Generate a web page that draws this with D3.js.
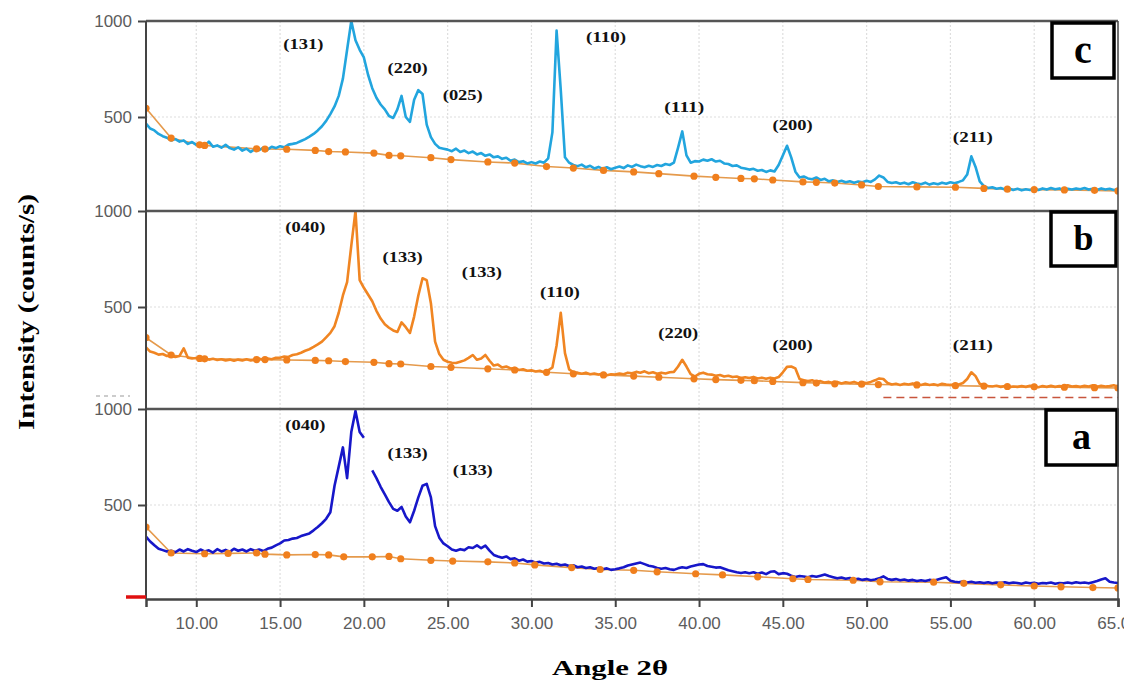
<!DOCTYPE html>
<html>
<head>
<meta charset="utf-8">
<script src="https://cdn.jsdelivr.net/npm/d3@7"></script>
<style>
  body { margin: 0; background: #fff; }
  svg { display: block; }
</style>
</head>
<body>
<svg id="chart"></svg>
<script>
// 2-theta grid shared by the three scans (7.00 .. 65.00, step 0.25)
const angles = d3.range(7, 65.001, 0.25);

// scan c (cyan)
const traceC = [
  465,440,430,412,400,392,378,385,372,378,360,370,
  355,362,350,372,345,352,340,355,338,330,342,325,335,318,332,328,340,330,345,338,
  348,342,356,360,365,375,385,398,412,430,452,480,515,555,610,700,850,1000,900,850,
  810,720,650,600,565,540,505,495,540,610,500,475,590,640,620,460,395,360,340,335,
  330,322,335,318,325,312,320,305,312,298,305,290,295,282,288,272,278,265,270,258,
  265,258,268,262,285,420,950,640,290,262,250,244,252,238,246,232,240,230,238,228,
  236,242,234,248,240,252,244,238,246,240,250,245,255,250,262,340,425,300,262,270,
  268,278,272,280,268,272,258,255,245,248,236,232,226,230,220,224,214,222,216,250,
  300,350,290,215,185,190,180,176,185,172,178,165,170,162,168,160,165,158,164,160,
  168,162,175,195,185,162,156,160,152,158,150,160,154,150,158,148,155,150,158,152,
  160,155,162,170,200,295,240,165,140,130,134,126,130,122,128,120,126,118,124,120,
  126,120,128,122,130,124,128,120,126,122,128,124,130,122,126,120,128,122,126,120,124
];

// scan b (orange)
const traceB = [
  290,268,262,252,255,245,248,240,245,285,236,232,
  234,228,232,226,230,224,228,222,226,220,226,222,228,222,226,230,226,232,228,236,
  236,242,240,250,254,262,272,280,292,305,320,342,365,400,470,560,630,820,1000,640,
  600,565,530,480,440,410,392,378,370,420,395,365,450,560,650,640,520,320,255,225,
  215,210,208,215,222,235,250,225,232,250,220,195,200,185,190,180,182,172,176,168,
  170,164,168,160,170,185,300,470,260,175,160,158,152,158,150,154,148,152,145,150,
  148,154,150,158,155,162,158,165,155,160,152,158,154,160,162,190,225,190,150,138,
  152,158,150,148,142,146,138,142,135,138,130,134,130,136,128,132,126,132,128,135,
  160,188,190,180,125,118,114,118,110,114,106,110,104,110,102,108,104,110,102,106,
  104,110,118,128,125,104,96,100,94,100,96,102,98,94,100,94,98,92,100,96,
  94,98,96,104,125,160,140,100,94,88,86,90,84,88,82,86,84,88,84,90,
  86,82,88,84,90,84,88,86,92,86,88,84,90,86,92,84,90,86,88,92,86
];

// scan a (blue), null = break in the recorded trace
const traceA = [
  335,310,290,272,265,258,262,254,268,258,270,262,
  255,268,258,264,252,270,258,266,256,272,262,268,258,270,262,268,260,272,278,290,
  300,315,318,325,328,338,345,352,368,385,405,428,462,600,700,800,640,880,990,880,
  850,null,680,640,595,555,515,480,470,490,440,410,470,540,600,610,540,390,330,300,
  285,268,262,270,265,280,276,290,275,288,262,240,232,225,232,218,222,210,216,205,
  208,200,204,195,198,190,194,186,190,182,186,176,180,172,176,168,172,165,170,162,
  165,170,176,185,190,195,200,192,184,180,172,168,172,165,162,170,176,172,180,185,
  190,192,182,178,174,176,168,160,155,150,146,150,145,150,142,148,140,152,155,140,
  145,142,132,125,130,128,124,130,126,132,138,130,124,118,122,116,120,112,116,110,
  114,108,112,118,128,115,110,114,108,112,106,110,104,108,104,110,106,112,118,124,
  106,100,98,102,96,100,95,98,94,98,92,96,94,98,92,96,94,90,96,92,
  95,90,94,92,96,90,94,92,96,92,98,94,96,92,98,104,112,118,100,96,94
];

// fitted backgrounds (orange dotted lines)
const baseAngC = [7.0,8.5,10.2,10.5,13.6,14.1,15.4,17.1,17.9,18.9,20.6,21.5,22.2,24.0,25.2,27.4,29.0,30.9,32.5,34.3,
  36.1,37.6,39.7,41.0,42.5,43.3,44.4,46.2,47.0,48.1,49.7,50.7,53.0,55.3,57.0,58.4,60.0,61.8,63.6,65.0];
const baseValC = [545,390,355,352,334,333,332,326,320,318,312,300,298,288,278,266,260,242,234,222,
  214,205,192,186,180,178,172,162,160,156,146,138,136,134,128,124,122,120,118,115];
const baseAngB = baseAngC;
const baseValB = [340,250,232,230,226,226,224,222,220,216,212,205,203,190,186,178,172,160,152,146,
  140,134,126,122,118,116,112,106,104,100,98,96,94,90,88,86,84,82,80,78];
const baseAngA = [7.0,8.5,10.5,11.9,13.6,14.1,15.4,17.1,17.9,18.8,20.5,21.5,22.2,24.0,25.3,27.4,29.0,30.2,
  32.4,34.1,36.1,37.5,39.8,41.4,43.5,45.6,46.5,49.2,50.8,54.0,55.8,58.0,60.0,61.6,63.5,65.0];
const baseValA = [385,250,246,248,250,244,240,242,240,230,230,232,220,212,208,204,198,188,
  174,164,160,152,142,136,126,116,112,108,100,98,92,84,78,74,70,68];

// Miller index annotations
const peakLabelsC = ["(131)","(220)","(025)","(110)","(111)","(200)","(211)"];
const peakAngC = [16.39,22.61,25.9,34.45,39.12,45.58,56.34];
const peakValC = [880,755,615,917,552,458,396];
const peakLabelsB = ["(040)","(133)","(133)","(110)","(220)","(200)","(211)"];
const peakAngB = [16.51,22.31,27.04,31.70,38.76,45.58,56.34];
const peakValB = [917,760,682,578,365,302,302];
const peakLabelsA = ["(040)","(133)","(133)"];
const peakAngA = [16.51,22.61,26.5];
const peakValA = [917,771,682];

const xTicks = [10,15,20,25,30,35,40,45,50,55,60,65];
const yTicks = [500,1000];

const width = 1124, height = 680;
const plotLeft = 146, plotRight = 1118;

const svg = d3.select("#chart").attr("width", width).attr("height", height);

const x = d3.scaleLinear().domain([7, 65]).range([plotLeft, plotRight]);

const panels = [
  { id: "c", top: 21, bottom: 211, trace: traceC, color: "#22a5de",
    bAng: baseAngC, bVal: baseValC, labels: peakLabelsC, lAng: peakAngC, lVal: peakValC,
    box: { x: 1052, y: 23, w: 62, h: 55, fs: 40 } },
  { id: "b", top: 211, bottom: 409, trace: traceB, color: "#f08522",
    bAng: baseAngB, bVal: baseValB, labels: peakLabelsB, lAng: peakAngB, lVal: peakValB,
    box: { x: 1051, y: 212, w: 65, h: 54, fs: 36 } },
  { id: "a", top: 409, bottom: 599, trace: traceA, color: "#1717c9",
    bAng: baseAngA, bVal: baseValA, labels: peakLabelsA, lAng: peakAngA, lVal: peakValA,
    box: { x: 1046, y: 410, w: 71, h: 55, fs: 38 } }
];

const defs = svg.append("defs");

panels.forEach(p => {
  const y = d3.scaleLinear().domain([0, 1000]).range([p.top + 192, p.top]);
  const g = svg.append("g").attr("class", "panel-" + p.id);

  defs.append("clipPath").attr("id", "clip-" + p.id)
    .append("rect")
    .attr("x", plotLeft).attr("y", p.top)
    .attr("width", plotRight - plotLeft).attr("height", p.bottom - p.top);

  // dotted grid
  g.append("g").selectAll("line")
    .data(xTicks.filter(d => d < 65))
    .join("line")
      .attr("x1", d => x(d)).attr("x2", d => x(d))
      .attr("y1", p.top).attr("y2", p.bottom)
      .attr("stroke", "#dedede").attr("stroke-width", 1.2)
      .attr("stroke-dasharray", "2,2");
  g.append("line")
    .attr("x1", plotLeft).attr("x2", plotRight)
    .attr("y1", y(500)).attr("y2", y(500))
    .attr("stroke", "#dedede").attr("stroke-width", 1.2)
    .attr("stroke-dasharray", "2,2");

  const inner = g.append("g").attr("clip-path", `url(#clip-${p.id})`);

  const bgPts = p.bAng.map((a, i) => [a, p.bVal[i]]);
  inner.append("path")
    .datum(bgPts)
    .attr("fill", "none")
    .attr("stroke", "#e59a4c")
    .attr("stroke-width", 1.6)
    .attr("d", d3.line().x(d => x(d[0])).y(d => y(d[1])));

  const pts = angles.map((a, i) => [a, p.trace[i]]).filter(d => d[1] !== undefined);
  inner.append("path")
    .datum(pts)
    .attr("fill", "none")
    .attr("stroke", p.color)
    .attr("stroke-width", 2.6)
    .attr("stroke-linejoin", "round")
    .attr("d", d3.line().defined(d => d[1] !== null).x(d => x(d[0])).y(d => y(d[1])));

  inner.append("g").selectAll("circle")
    .data(bgPts)
    .join("circle")
      .attr("cx", d => x(d[0]))
      .attr("cy", d => y(d[1]))
      .attr("r", 3.6)
      .attr("fill", "#f07f1d");

  // peak labels
  g.append("g").selectAll("text")
    .data(p.labels)
    .join("text")
      .attr("x", (d, i) => x(p.lAng[i]) - 20)
      .attr("y", (d, i) => y(p.lVal[i]))
      .attr("dy", "0.35em")
      .attr("textLength", 40)
      .attr("lengthAdjust", "spacingAndGlyphs")
      .style("font-family", "'Liberation Serif', 'Times New Roman', serif")
      .style("font-weight", "bold")
      .style("font-size", "14px")
      .attr("fill", "#111")
      .text(d => d);

  // y axis of this panel
  const yAxis = d3.axisLeft(y).tickValues(yTicks).tickFormat(d3.format("d"))
    .tickSize(8).tickPadding(6);
  const ya = g.append("g").attr("transform", `translate(${plotLeft},0)`).call(yAxis);
  ya.select(".domain").remove();
  ya.selectAll(".tick line").attr("stroke", "#444").attr("stroke-width", 2);
  ya.selectAll(".tick text")
    .style("font-family", "'Liberation Sans', Arial, sans-serif")
    .style("font-size", "17px")
    .attr("fill", "#5c5c5c");

  // panel top rule
  g.append("line")
    .attr("x1", plotLeft).attr("x2", plotRight)
    .attr("y1", p.top).attr("y2", p.top)
    .attr("stroke", "#555").attr("stroke-width", 2.5);

  // letter box
  g.append("rect")
    .attr("x", p.box.x).attr("y", p.box.y)
    .attr("width", p.box.w).attr("height", p.box.h)
    .attr("fill", "#fff").attr("stroke", "#000").attr("stroke-width", 3.5);
  g.append("text")
    .attr("x", p.box.x + p.box.w / 2)
    .attr("y", p.box.y + p.box.h / 2)
    .attr("dy", "0.3em")
    .attr("text-anchor", "middle")
    .style("font-family", "'Liberation Serif', 'Times New Roman', serif")
    .style("font-weight", "bold")
    .style("font-size", p.box.fs + "px")
    .text(p.id);

  p.y = y;
});

// small artefacts of the original scan
const yb = panels[1].y;
svg.append("line")
  .attr("x1", x(51)).attr("x2", x(65))
  .attr("y1", yb(28)).attr("y2", yb(28))
  .attr("stroke", "#c8553d").attr("stroke-width", 1.5)
  .attr("stroke-dasharray", "8,5");
svg.append("line")
  .attr("x1", 96).attr("x2", 130).attr("y1", 396).attr("y2", 396)
  .attr("stroke", "#999").attr("stroke-width", 1.2).attr("stroke-dasharray", "4,4");

// frame
svg.append("line")
  .attr("x1", plotLeft).attr("x2", plotLeft).attr("y1", 21).attr("y2", 599)
  .attr("stroke", "#444").attr("stroke-width", 2);
svg.append("line")
  .attr("x1", plotRight).attr("x2", plotRight).attr("y1", 21).attr("y2", 599)
  .attr("stroke", "#444").attr("stroke-width", 1.5);

// x axis
const xAxis = d3.axisBottom(x).tickValues(xTicks).tickFormat(d3.format(".2f"))
  .tickSize(8).tickPadding(10);
const xa = svg.append("g").attr("transform", "translate(0,599)").call(xAxis);
xa.select(".domain").attr("stroke", "#444").attr("stroke-width", 2.5);
xa.selectAll(".tick line").attr("stroke", "#444").attr("stroke-width", 2);
xa.selectAll(".tick text")
  .style("font-family", "'Liberation Sans', Arial, sans-serif")
  .style("font-size", "17px")
  .attr("fill", "#5c5c5c");

// red zero marker at the foot of the y axis
svg.append("line")
  .attr("x1", 126).attr("x2", plotLeft).attr("y1", 597).attr("y2", 597)
  .attr("stroke", "#e01010").attr("stroke-width", 3.5);

// axis titles
svg.append("text")
  .attr("x", 610).attr("y", 675)
  .attr("text-anchor", "middle")
  .attr("textLength", 116)
  .attr("lengthAdjust", "spacingAndGlyphs")
  .style("font-family", "'Liberation Serif', 'Times New Roman', serif")
  .style("font-weight", "bold")
  .style("font-size", "22px")
  .text("Angle 2θ");

svg.append("text")
  .attr("transform", "translate(34,312) rotate(-90)")
  .attr("text-anchor", "middle")
  .attr("textLength", 236)
  .attr("lengthAdjust", "spacingAndGlyphs")
  .style("font-family", "'Liberation Serif', 'Times New Roman', serif")
  .style("font-weight", "bold")
  .style("font-size", "23px")
  .text("Intensity (counts/s)");
</script>
</body>
</html>
